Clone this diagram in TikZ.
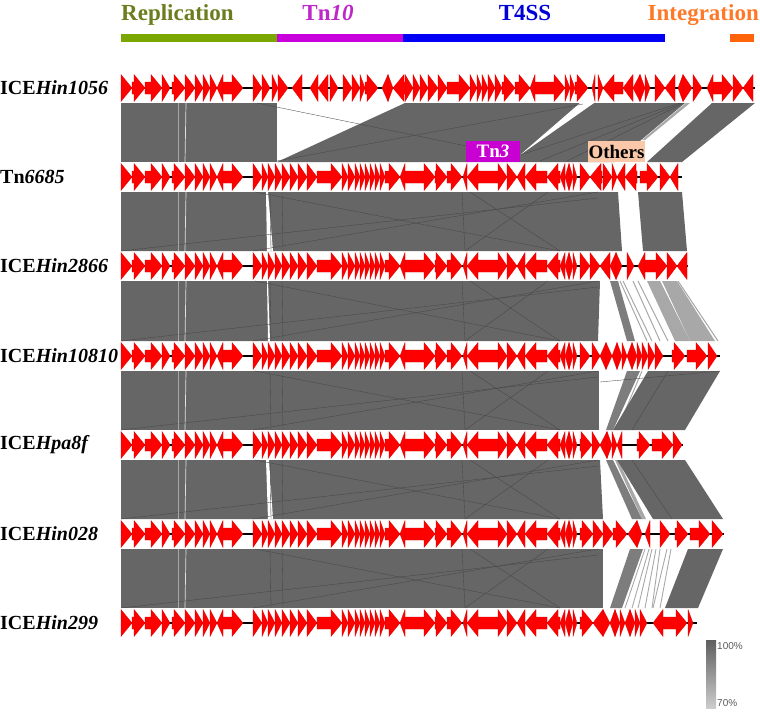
\documentclass[tikz,border=0pt]{standalone}
\usepackage{fontspec}
\setmainfont{Liberation Serif}
\newfontfamily\legendfont{Liberation Sans}
\definecolor{band}{RGB}{102,102,102}
\definecolor{bandmid}{RGB}{125,125,125}
\definecolor{bandlight}{RGB}{168,168,168}
\definecolor{repltext}{RGB}{107,125,30}
\definecolor{replbar}{RGB}{122,168,0}
\definecolor{tntext}{RGB}{190,40,200}
\definecolor{tnbar}{RGB}{200,0,220}
\definecolor{tfsstext}{RGB}{0,0,215}
\definecolor{tfssbar}{RGB}{0,0,245}
\definecolor{integtext}{RGB}{255,120,40}
\definecolor{integbar}{RGB}{255,100,10}
\definecolor{tnthree}{RGB}{200,0,210}
\definecolor{otherscol}{RGB}{250,200,168}
\definecolor{genered}{RGB}{255,0,0}
\definecolor{geneedge}{RGB}{215,0,0}

\tikzset{
  genefill/.style={fill=genered, draw=geneedge, line width=0.25pt},
  backbone/.style={line width=2.6pt, black},
  xline/.style={draw=black!72, line width=0.35pt},
  xlight/.style={draw=black!35, line width=0.6pt},
  xwhite/.style={draw=black!12, line width=0.7pt},
  rowlabel/.style={anchor=west, inner sep=0pt, font=\fontsize{20}{24}\selectfont\bfseries},
  headlabel/.style={anchor=base, inner sep=0pt, font=\fontsize{23}{27}\selectfont\bfseries},
  legendlabel/.style={anchor=west, inner sep=0pt, text=black!65, font=\legendfont\fontsize{10}{12}\selectfont},
  boxlabel/.style={minimum width=#1, minimum height=21pt, inner sep=0pt, font=\fontsize{19}{21}\selectfont\bfseries},
}

\newcommand\drawgenes[2]{%
  \foreach \a/\b/\d in #2 {%
    \pgfmathsetmacro\L{\b-\a}%
    \pgfmathsetmacro\h{min(\L,11)}%
    \ifnum\d=1
      \filldraw[genefill] (\a,#1-6) -- (\b-\h,#1-6) -- (\b-\h,#1-13.5) -- (\b,#1) -- (\b-\h,#1+13.5) -- (\b-\h,#1+6) -- (\a,#1+6) -- cycle;
    \else
      \filldraw[genefill] (\b,#1-6) -- (\a+\h,#1-6) -- (\a+\h,#1-13.5) -- (\a,#1) -- (\a+\h,#1+13.5) -- (\a+\h,#1+6) -- (\b,#1+6) -- cycle;
    \fi
  }%
}

\def\rowone{121/132/1,132/145/1,145/162/1,162/170/1,172/185/1,185/195/1,195/203/1,203/210/1,210/217/1,217/223/-1,223/243/1,253/262/1,262/270/1,272/278/1,278/288/1,292/302/-1,310/318/-1,318/328/-1,330/338/1,343/352/1,352/360/1,360/365/1,365/378/1,382/388/-1,388/393/1,393/405/-1,405/413/1,413/420/1,420/428/1,428/438/1,438/447/1,447/470/1,470/477/1,477/482/1,482/488/1,488/495/1,495/502/1,502/515/1,515/530/1,530/535/-1,535/565/1,565/570/1,570/575/1,575/588/1,592/595/-1,598/603/1,603/623/-1,623/633/-1,633/640/-1,640/645/1,645/650/1,655/665/1,665/675/-1,678/683/-1,683/692/1,693/702/1,707/713/-1,713/733/1,733/743/1,743/753/-1}
\def\baseL{121/132/1,132/145/1,145/162/1,162/170/1,172/185/1,185/195/1,195/203/1,203/210/1,210/217/1,217/223/-1,223/243/1,253/262/1,262/268/1,268/275/1,275/282/1,282/290/1,290/298/1,298/307/1,307/317/1,317/342/1,342/348/1,348/355/1,355/360/1,360/365/1,365/370/1,370/375/1,375/380/1,380/385/1,385/400/1,400/405/-1,405/435/1,435/447/1,447/462/1,463/467/-1,467/498/-1,498/507/1,507/517/1,517/525/-1,525/547/-1,547/560/-1,560/565/-1,565/569/-1,569/573/1,573/577/1}
\def\tailtwo{580/590/1,590/602/-1,603/612/1,612/617/1,617/625/-1,625/637/-1,640/658/1,660/670/1,670/678/-1}
\def\tailthree{580/590/1,590/600/1,600/610/-1,610/616/-1,616/622/1,627/634/1,638/645/-1,645/667/1,667/677/1,677/687/-1}
\def\tailfour{580/590/1,592/600/1,600/606/-1,606/612/1,612/617/-1,617/622/1,622/627/1,627/632/-1,632/637/1,637/642/1,642/648/1,648/655/1,655/663/1,672/685/1,687/707/1,708/717/1}
\def\tailfive{580/592/1,592/600/1,600/607/-1,607/612/1,612/617/1,617/622/-1,637/650/1,652/673/1,673/682/1}
\def\tailsix{580/593/1,593/603/1,603/613/1,613/627/1,628/637/-1,637/642/1,645/650/-1,660/670/1,675/688/1,690/710/1,712/723/1}
\def\tailseven{580/593/1,593/603/-1,603/610/1,610/615/-1,615/620/1,620/625/1,625/630/-1,630/635/1,635/640/1,640/647/1,653/663/-1,663/687/1,688/693/1}

\begin{document}
\begin{tikzpicture}[x=1pt,y=-1pt]
\useasboundingbox (0,0) rectangle (760,712);

% ---------- header ----------
\node[headlabel, anchor=base west, text=repltext] (hrepl) at (121,20) {Replication};
\node[headlabel, text=tntext] (htn) at (328,20) {Tn\textit{10}};
\node[headlabel, text=tfsstext] (htfss) at (525,20) {T4SS};
\node[headlabel, anchor=base east, text=integtext] (hinteg) at (759,20) {Integration};
\fill[replbar] (121,33.5) rectangle (277,42);
\fill[tnbar] (277,33.5) rectangle (403,42);
\fill[tfssbar] (403,33.5) rectangle (665,42);
\fill[integbar] (730,33.5) rectangle (754,42);

% ---------- band 1-2 ----------
\fill[band] (121,103) rectangle (277,162);
\fill[band] (405,103) -- (685,103) -- (615,162) -- (277,162) -- cycle;
\fill[white] (580,103) -- (594,103) -- (520,155) -- cycle;
\fill[band] (712,103) -- (755,103) -- (682,162) -- (647,162) -- cycle;
\fill[bandlight] (686,103) -- (690,103) -- (645,140) -- (642,140) -- cycle;
\draw[xline] (257,103) -- (520,157);
\draw[xline] (277,161) -- (583,104);
\draw[xline] (520,155) -- (680,103);
\draw[xline] (540,161) -- (682,103);
\draw[xline] (567,161) -- (684,103);
\draw[xlight] (178,103) -- (178,162);
\draw[xwhite] (186,103) -- (185,162);

% ---------- band 2-3 ----------
\fill[band] (121,192) -- (618,192) -- (622,251) -- (121,251) -- cycle;
\fill[white] (266,192) -- (268,192) -- (273,251) -- (267,251) -- cycle;
\fill[band] (638,192) -- (682,192) -- (687,251) -- (643,251) -- cycle;

% ---------- band 3-4 ----------
\fill[band] (121,281) -- (600,281) -- (598,341) -- (121,341) -- cycle;
\fill[white] (267,281) -- (268,281) -- (270,341) -- (268,341) -- cycle;
\fill[bandmid] (610,281) -- (618,281) -- (635,341) -- (627,341) -- cycle;
\foreach \p/\q in {620/647,623/652,633/660,638/668,678/718}
  \draw[bandlight, line width=1pt] (\p,281) -- (\q,341);
\fill[bandlight] (647,281) -- (660,281) -- (690,341) -- (675,341) -- cycle;
\fill[bandlight] (662,281) -- (677,281) -- (715,341) -- (690,341) -- cycle;

% ---------- band 4-5 ----------
\fill[band] (121,371) -- (599,371) -- (599,430) -- (121,430) -- cycle;
\fill[bandmid] (627,371) -- (640,371) -- (613,430) -- (606,430) -- cycle;
\draw[bandlight, line width=1pt] (642,371) -- (617,430);
\fill[band] (648,371) -- (720,371) -- (685,430) -- (613,430) -- cycle;
\draw[xline] (600,382) -- (720,371);
\draw[xline] (668,371) -- (632,430);

% ---------- band 5-6 ----------
\fill[band] (121,460) -- (600,460) -- (603,519) -- (121,519) -- cycle;
\fill[white] (266,460) -- (269,460) -- (273,519) -- (268,519) -- cycle;
\fill[bandmid] (606,460) -- (613,460) -- (642,519) -- (632,519) -- cycle;
\fill[bandlight] (615,460) -- (618,460) -- (646,519) -- (642,519) -- cycle;
\fill[band] (617,460) -- (685,460) -- (723,519) -- (653,519) -- cycle;
\draw[xline] (632,460) -- (672,519);

% ---------- band 6-7 ----------
\fill[band] (121,549) -- (603,549) -- (603,608) -- (121,608) -- cycle;
\fill[bandmid] (630,549) -- (643,549) -- (622,608) -- (610,608) -- cycle;
\foreach \p/\q in {645/625,649/632,652/638,656/645,660/652,667/653,671/660}
  \draw[bandlight, line width=0.9pt] (\p,549) -- (\q,608);
\fill[band] (688,549) -- (723,549) -- (698,608) -- (665,608) -- cycle;

% ---------- crossing lines in the main blocks ----------
\foreach \T/\U in {192/251,281/341,371/430,460/519,549/608} {
  \draw[xline] (255,\T) -- (560,\U);
  \draw[xline] (121,\U) -- (598,\T+6);
  \draw[xline] (253,\U) -- (598,\T);
  \draw[xline] (270,\T) -- (271,\U);
  \draw[xline] (282,\T) -- (283,\U);
  \draw[xline] (462,\T) -- (465,\U);
  \draw[xline] (470,\T) -- (560,\U);
  \draw[xline] (465,\U) -- (548,\T);
  \draw[xlight] (178,\T) -- (178,\U);
  \draw[xwhite] (186,\T) -- (185,\U);
}

% ---------- backbones ----------
\draw[backbone] (121,88) -- (755,88);
\draw[backbone] (121,177) -- (682,177);
\draw[backbone] (121,266) -- (688,266);
\draw[backbone] (121,356) -- (720,356);
\draw[backbone] (121,445) -- (683,445);
\draw[backbone] (121,534) -- (724,534);
\draw[backbone] (121,623) -- (697,623);

% ---------- genes ----------
\drawgenes{88}{\rowone}
\drawgenes{177}{\baseL}
\drawgenes{177}{\tailtwo}
\drawgenes{266}{\baseL}
\drawgenes{266}{\tailthree}
\drawgenes{356}{\baseL}
\drawgenes{356}{\tailfour}
\drawgenes{445}{\baseL}
\drawgenes{445}{\tailfive}
\drawgenes{534}{\baseL}
\drawgenes{534}{\tailsix}
\drawgenes{623}{\baseL}
\drawgenes{623}{\tailseven}

% ---------- boxes ----------
\node[boxlabel=54pt, fill=tnthree, text=white] (tn3) at (493,151.5) {Tn\textit{3}};
\node[boxlabel=57pt, fill=otherscol, text=black] (others) at (616.5,151.5) {Others};

% ---------- row labels ----------
\node[rowlabel] (l1) at (0,88) {ICE\textit{Hin1056}};
\node[rowlabel] (l2) at (0,177) {Tn\textit{6685}};
\node[rowlabel] (l3) at (0,266) {ICE\textit{Hin2866}};
\node[rowlabel] (l4) at (0,356) {ICE\textit{Hin10810}};
\node[rowlabel] (l5) at (0,445) {ICE\textit{Hpa8f}};
\node[rowlabel] (l6) at (0,534) {ICE\textit{Hin028}};
\node[rowlabel] (l7) at (0,623) {ICE\textit{Hin299}};

% ---------- legend ----------
\shade[top color=black!63, bottom color=black!20] (706,640) rectangle (716,708);
\node[legendlabel] (lg100) at (717,646) {100\%};
\node[legendlabel] (lg70) at (717,703) {70\%};
\end{tikzpicture}
\end{document}
